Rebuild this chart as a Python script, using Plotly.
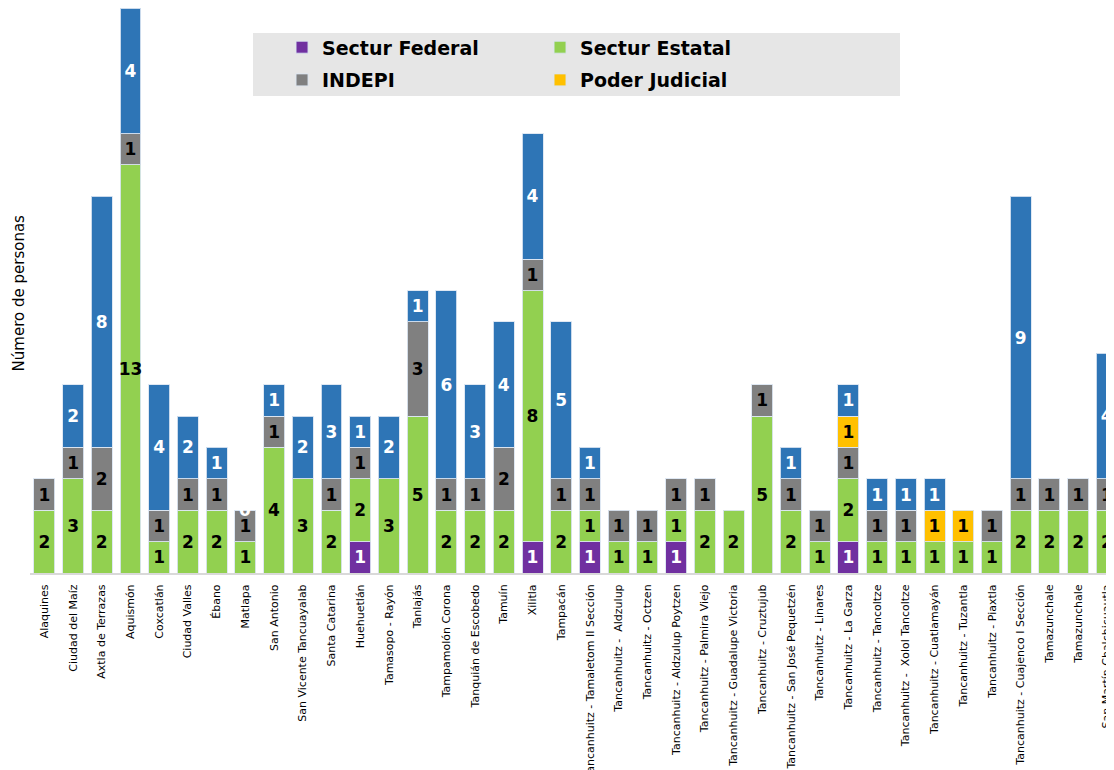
import plotly.graph_objects as go

# Municipios / localidades (eje X)
municipios = [
    "Alaquines", "Ciudad del Maíz", "Axtla de Terrazas", "Aquismón", "Coxcatlán",
    "Ciudad Valles", "Ébano", "Matlapa", "San Antonio", "San Vicente Tancuayalab",
    "Santa Catarina", "Huehuetlán", "Tamasopo - Rayón", "Tanlajás",
    "Tampamolón Corona", "Tanquián de Escobedo", "Tamuín", "Xilitla", "Tampacán",
    "Tancanhuitz - Tamaletom II Sección", "Tancanhuitz -  Aldzulup",
    "Tancanhuitz - Octzen", "Tancanhuitz - Aldzulup Poytzen",
    "Tancanhuitz - Palmira Viejo", "Tancanhuitz - Guadalupe Victoria",
    "Tancanhuitz - Cruztujub", "Tancanhuitz - San José Pequetzén",
    "Tancanhuitz - Linares", "Tancanhuitz - La Garza", "Tancanhuitz - Tancoltze",
    "Tancanhuitz -  Xolol Tancoltze", "Tancanhuitz - Cuatlamayán",
    "Tancanhuitz - Tuzantla", "Tancanhuitz - Piaxtla",
    "Tancanhuitz - Cuajenco I Sección", "Tamazunchale", "Tamazunchale",
    "San Martín Chalchicuautla",
]

sectur_federal = [None, None, None, None, None, None, None, None, None, None,
                  None, 1, None, None, None, None, None, 1, None, 1,
                  None, None, 1, None, None, None, None, None, 1, None,
                  None, None, None, None, None, None, None, None]
sectur_estatal = [2, 3, 2, 13, 1, 2, 2, 1, 4, 3,
                  2, 2, 3, 5, 2, 2, 2, 8, 2, 1,
                  1, 1, 1, 2, 2, 5, 2, 1, 2, 1,
                  1, 1, 1, 1, 2, 2, 2, 2]
indepi = [1, 1, 2, 1, 1, 1, 1, 1, 1, None,
          1, 1, None, 3, 1, 1, 2, 1, 1, 1,
          1, 1, 1, 1, None, 1, 1, 1, 1, 1,
          1, None, None, 1, 1, 1, 1, 1]
poder_judicial = [None, None, None, None, None, None, None, None, None, None,
                  None, None, None, None, None, None, None, None, None, None,
                  None, None, None, None, None, None, None, None, 1, None,
                  None, 1, 1, None, None, None, None, None]
otros = [None, 2, 8, 4, 4, 2, 1, 0, 1, 2,
         3, 1, 2, 1, 6, 3, 4, 4, 5, 1,
         None, None, None, None, None, None, 1, None, 1, 1,
         1, 1, None, None, 9, None, None, 4]

COLORS = {
    "federal": "#7030A0",
    "estatal": "#92D050",
    "indepi": "#808080",
    "judicial": "#FFC000",
    "otros": "#2E75B6",
}

FONT = "DejaVu Sans"
x = list(range(len(municipios)))

series = [
    ("Sectur Federal", sectur_federal, COLORS["federal"], "white", "legend"),
    ("Sectur Estatal", sectur_estatal, COLORS["estatal"], "black", "legend2"),
    ("INDEPI", indepi, COLORS["indepi"], "black", "legend"),
    ("Poder Judicial", poder_judicial, COLORS["judicial"], "black", "legend2"),
    ("Otros", otros, COLORS["otros"], "white", "legend"),
]

fig = go.Figure()
for name, vals, color, txtcolor, leg in series:
    fig.add_trace(go.Bar(
        x=x, y=vals,
        name=name,
        legend=leg,
        legendgroup=name,
        showlegend=(name != "Otros"),
        marker=dict(color=color, line=dict(color="rgba(220,230,242,0.9)", width=1)),
        text=[("" if v is None else str(v)) for v in vals],
        textposition="inside",
        insidetextanchor="middle",
        textangle=0,
        constraintext="none",
        textfont=dict(family=FONT, size=17, color=txtcolor, weight="bold"),
    ))

# zero-valued segments still show their label (as in the original)
for i, v in enumerate(otros):
    if v == 0:
        base = sum((s[1][i] or 0) for s in series[:4])
        fig.add_annotation(x=i, y=base, text="0", showarrow=False,
                           font=dict(family=FONT, size=17, color="white", weight="bold"))

# legend background box
fig.add_shape(type="rect", xref="paper", yref="paper",
              x0=0.2057, x1=0.8026, y0=0.8442, y1=0.9558,
              fillcolor="#E6E6E6", line=dict(width=0), layer="below")

fig.add_annotation(xref="paper", yref="paper", x=-0.0101, y=0.495,
                   xanchor="center", yanchor="middle",
                   text="Número de personas", textangle=-90, showarrow=False,
                   font=dict(family=FONT, size=15, color="black"))

legend_style = dict(
    bgcolor="rgba(0,0,0,0)",
    font=dict(family=FONT, size=19, color="black", weight="bold"),
    yanchor="top", xanchor="left",
    tracegroupgap=5,
    itemclick=False,
)

# page body has an 8px margin, so the figure is 8px smaller than the window
fig.update_layout(
    barmode="stack",
    bargap=0.27,
    width=1106, height=762,
    paper_bgcolor="white", plot_bgcolor="white",
    margin=dict(l=22, r=0, t=0, b=197, autoexpand=False),
    legend=dict(x=0.2325, y=0.964, **legend_style),
    legend2=dict(x=0.4705, y=0.964, **legend_style),
    xaxis=dict(
        range=[-0.5, 37.25],
        tickmode="array", tickvals=x, ticktext=municipios,
        tickangle=-90,
        tickfont=dict(family=FONT, size=11, color="black"),
        ticklabelstandoff=5,
        automargin=False,
        showgrid=False, zeroline=False,
        showline=True, linecolor="#D9D9D9", linewidth=2,
        ticks="",
    ),
    yaxis=dict(
        range=[0, 18.0],
        automargin=False,
        showticklabels=False, showgrid=False, zeroline=False,
    ),
)

fig.write_html("out.html")
